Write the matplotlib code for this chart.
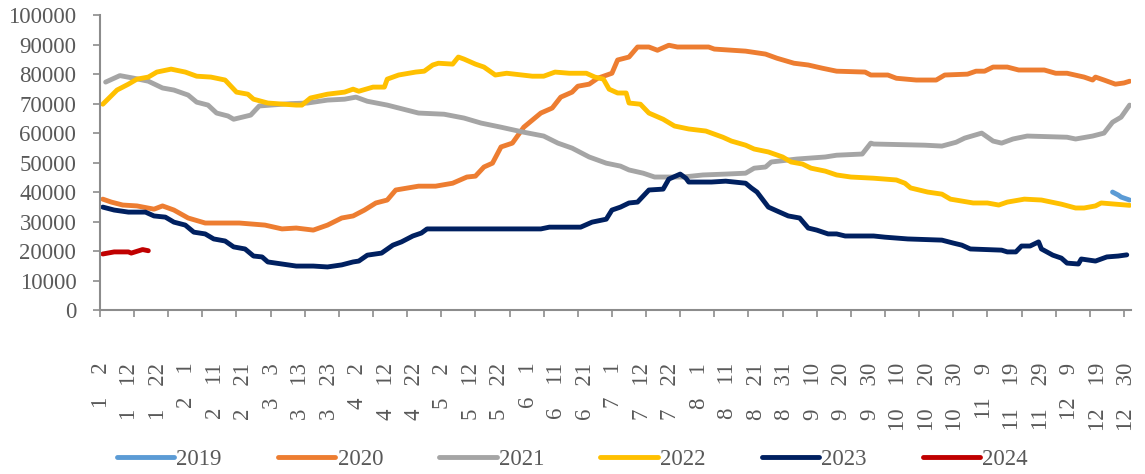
import matplotlib
matplotlib.use("Agg")
import matplotlib.pyplot as plt
import numpy as np

plt.rcParams["font.family"] = ["Liberation Serif", "DejaVu Serif"]

TXT = "#595959"
AXC = "#8c8c8c"

# x = trading-day index along the year
x_2019 = [356, 358, 359, 362]
y_2019 = [40000, 39000, 38300, 37300]

x_2020 = [1, 4, 8, 13, 19, 22, 26, 31, 37, 49, 58, 64, 69, 75, 80, 85, 89, 93,
          97, 101, 104, 112, 118, 124, 129, 132, 135, 138, 141, 145, 149, 155,
          159, 162, 166, 168, 172, 175, 180, 182, 186, 189, 193, 196, 200, 203,
          214, 216, 227, 234, 238, 244, 249, 254, 259, 269, 271, 277, 280, 287,
          294, 297, 305, 308, 311, 314, 319, 323, 332, 336, 340, 346, 349, 350,
          353, 357, 360, 362]
y_2020 = [37600, 36600, 35600, 35300, 34200, 35300, 33900, 31200, 29500, 29500,
          28800, 27500, 27800, 27100, 28800, 31200, 31900, 33900, 36300, 37300,
          40700, 42000, 42000, 43000, 45100, 45400, 48500, 49800, 55300, 56600,
          62000, 66800, 68500, 72200, 73900, 75900, 76600, 78600, 80300, 84800,
          85800, 89200, 89200, 88100, 89800, 89200, 89200, 88500, 87800, 86800,
          85400, 83700, 83100, 82000, 81000, 80700, 79700, 79700, 78600, 78000,
          78000, 79700, 80000, 81000, 81000, 82400, 82400, 81400, 81400, 80300,
          80300, 79000, 78000, 79000, 78000, 76600, 77000, 77600]

x_2021 = [2, 7, 12, 17, 22, 26, 31, 34, 38, 41, 45, 47, 50, 53, 56, 60, 67, 73,
          80, 86, 90, 94, 101, 112, 121, 128, 134, 141, 149, 156, 161, 166, 172,
          178, 183, 186, 191, 195, 205, 212, 220, 227, 230, 234, 236, 245, 255,
          259, 268, 271, 272, 290, 296, 301, 304, 310, 314, 317, 321, 326, 340,
          343, 349, 353, 356, 359, 362]
y_2021 = [77300, 79500, 78600, 77600, 75300, 74600, 72900, 70500, 69500, 66800,
          65800, 64700, 65400, 66100, 69200, 69500, 70000, 70200, 71200, 71500,
          72200, 70800, 69500, 66800, 66400, 65100, 63400, 62000, 60300, 59000,
          56600, 54900, 51900, 49800, 48800, 47500, 46400, 45100, 45100, 45800,
          46100, 46400, 48100, 48500, 50200, 51200, 51900, 52500, 52900, 56600,
          56300, 55900, 55600, 56900, 58300, 60000, 57300, 56600, 58000, 59000,
          58600, 58000, 59000, 60000, 63700, 65400, 69500]

x_2022 = [1, 6, 10, 13, 17, 20, 25, 30, 34, 39, 44, 48, 52, 54, 59, 69, 71, 74,
          80, 86, 89, 91, 96, 100, 101, 105, 111, 114, 117, 119, 124, 126, 128,
          132, 135, 139, 143, 152, 156, 160, 165, 171, 174, 177, 179, 182, 185,
          186, 190, 193, 198, 202, 207, 213, 219, 222, 227, 230, 235, 240, 243,
          247, 250, 255, 259, 264, 272, 280, 283, 285, 291, 296, 299, 307, 312,
          316, 319, 325, 331, 338, 343, 346, 350, 352, 362]
y_2022 = [69800, 74600, 76600, 78300, 79000, 80700, 81700, 80700, 79300, 79000,
          78000, 73900, 73200, 71500, 70200, 69500, 69500, 71900, 73200, 73900,
          74900, 74200, 75600, 75600, 78300, 79700, 80700, 81000, 83100, 83700,
          83400, 85800, 85100, 83400, 82400, 79700, 80300, 79300, 79300, 80700,
          80300, 80300, 79000, 78300, 74900, 73600, 73600, 70200, 69800, 66800,
          64700, 62400, 61400, 60700, 58600, 57300, 55900, 54600, 53600, 51900,
          50200, 49500, 48100, 47100, 45800, 45100, 44700, 44100, 43000, 41400,
          40000, 39300, 37600, 36300, 36300, 35600, 36600, 37600, 37300, 35900,
          34600, 34600, 35300, 36300, 35500]

x_2023 = [1, 5, 10, 16, 19, 23, 26, 30, 33, 37, 40, 44, 47, 51, 54, 57, 59, 64,
          69, 75, 80, 85, 89, 91, 94, 99, 103, 106, 110, 113, 115, 155, 158, 169,
          173, 178, 180, 183, 186, 189, 193, 198, 200, 204, 206, 207, 215, 220,
          227, 229, 231, 235, 238, 242, 246, 249, 252, 256, 259, 262, 272, 276,
          284, 296, 300, 303, 306, 317, 319, 322, 324, 327, 330, 331, 335, 338,
          340, 344, 345, 350, 354, 358, 361]
y_2023 = [34900, 33900, 33200, 33200, 31900, 31500, 29800, 28800, 26400, 25800,
          24100, 23400, 21400, 20700, 18300, 18000, 16300, 15600, 14900, 14900,
          14600, 15300, 16300, 16600, 18600, 19300, 22000, 23100, 25100, 26100,
          27500, 27500, 28100, 28100, 29800, 30800, 33900, 34900, 36300, 36600,
          40700, 41000, 44400, 46100, 44700, 43400, 43400, 43700, 43000, 41400,
          40000, 34900, 33600, 31900, 31200, 27800, 27100, 25800, 25800, 25100,
          25100, 24700, 24100, 23700, 22700, 22000, 20700, 20300, 19700, 19700,
          21700, 21700, 23100, 20700, 18600, 17600, 15900, 15600, 17300, 16600,
          18000, 18300, 18700]

x_2024 = [1, 5, 10, 11, 15, 17]
y_2024 = [19000, 19700, 19700, 19300, 20500, 20100]

series = [
    ("2019", x_2019, y_2019, "#5b9bd5"),
    ("2020", x_2020, y_2020, "#ed7d31"),
    ("2021", x_2021, y_2021, "#a5a5a5"),
    ("2022", x_2022, y_2022, "#ffc000"),
    ("2023", x_2023, y_2023, "#002060"),
    ("2024", x_2024, y_2024, "#c00000"),
]

months = [1, 1, 1, 2, 2, 2, 3, 3, 3, 4, 4, 4, 5, 5, 5, 6, 6, 6, 7, 7, 7,
          8, 8, 8, 8, 9, 9, 9, 10, 10, 10, 11, 11, 11, 12, 12, 12]
days = [2, 12, 22, 1, 11, 21, 3, 13, 23, 2, 12, 22, 2, 12, 22, 1, 11, 21, 1, 12, 22,
        1, 11, 21, 31, 10, 20, 30, 10, 20, 30, 9, 19, 29, 9, 19, 30]
tick_labels = [f"{m}    {d}" for m, d in zip(months, days)]

fig = plt.figure(figsize=(11.45, 4.74), dpi=100)
ax = fig.add_axes([0.0873, 0.346, 0.9005, 0.622])

for name, xs, ys, c in series:
    ax.plot(xs, ys, color=c, lw=3.5, label=name, solid_capstyle="round",
            solid_joinstyle="round")

ax.set_xlim(0, 362.5)
ax.set_ylim(0, 100000)
ax.set_yticks(np.arange(0, 100001, 10000))

# labels every 10 trading days, tick marks every 12
ax.set_xticks(np.linspace(0.4, 361, len(tick_labels)))
ax.set_xticklabels(tick_labels, rotation=90, va="top", ha="center")
ax.set_xticks(np.arange(0, 361, 12), minor=True)
ax.tick_params(axis="x", which="major", length=0, pad=38, labelsize=16.5,
               labelcolor=TXT)
ax.tick_params(axis="x", which="minor", length=5, width=1.2, color=AXC,
               direction="out")
ax.tick_params(axis="y", length=5, width=1.2, color=AXC, pad=12,
               labelsize=16.5, labelcolor=TXT)

for s in ["top", "right"]:
    ax.spines[s].set_visible(False)
for s in ["left", "bottom"]:
    ax.spines[s].set_color(AXC)
    ax.spines[s].set_linewidth(1.5)

fig.legend(loc="center", bbox_to_anchor=(0.5, 0.03), ncol=6, frameon=False,
           fontsize=16.5, handlelength=2.5, handletextpad=0.1,
           columnspacing=2.45, labelcolor=TXT)

plt.savefig("out.png", dpi=100)
